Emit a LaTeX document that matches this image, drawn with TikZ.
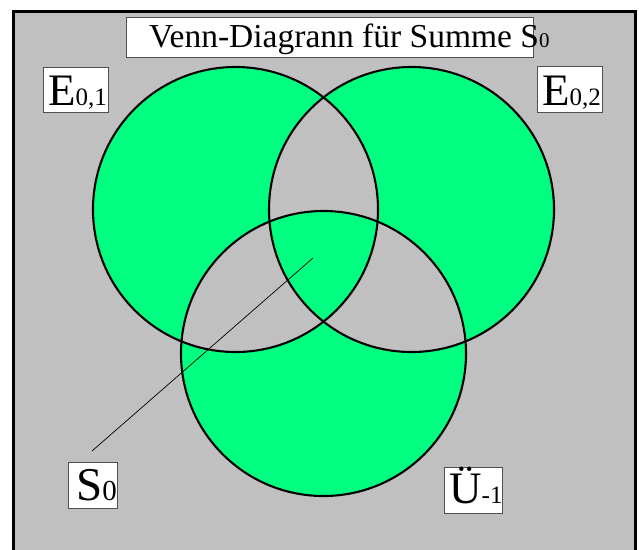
\documentclass[tikz,border=0pt]{standalone}
\usepackage{fontspec}
\setmainfont{Liberation Serif}
\definecolor{vgreen}{RGB}{0,255,128}
\definecolor{vgray}{RGB}{192,192,192}
\definecolor{boxline}{RGB}{80,80,80}
\tikzset{
  labelbox/.style={draw=boxline, line width=1pt, fill=white, inner sep=0pt},
  labeltext/.style={inner sep=0pt, anchor=base west, text=black},
  vcircle/.style={draw=black, line width=2.1pt},
}
\newcommand{\bigtxt}{\fontsize{45}{45}\selectfont}
\newcommand{\subtxt}{\fontsize{25}{25}\selectfont}
\begin{document}
\begin{tikzpicture}[x=1pt,y=-1pt]
\useasboundingbox (0,0) rectangle (639,549);
\begin{scope}
\clip (0,0) rectangle (639,549);
\draw[line width=3pt, fill=vgray] (13.5,11) rectangle (635,560);
\end{scope}
% circles
\coordinate (c1) at (235.5,209.5);
\coordinate (c2) at (411.5,209.5);
\coordinate (c3) at (323.5,353.5);
\fill[vgreen, even odd rule] (c1) circle (142.5) (c2) circle (142.5) (c3) circle (142.5);
\draw[vcircle] (c1) circle (142.5);
\draw[vcircle] (c2) circle (142.5);
\draw[vcircle] (c3) circle (142.5);
% title
\node[labelbox, minimum width=407pt, minimum height=40pt] (titlebox) at (329.5,37) {};
\node[labeltext] (title) at (149,47) {\fontsize{33.5}{33.5}\selectfont Venn-Diagrann für Summe S{\fontsize{21}{21}\selectfont 0}};
% E0,1
\node[labelbox, minimum width=65pt, minimum height=45pt] (e1box) at (75.5,89.5) {};
\node[labeltext] (e1) at (48,105) {\bigtxt E\subtxt 0,1};
% E0,2
\node[labelbox, minimum width=65pt, minimum height=46pt] (e2box) at (569.5,89) {};
\node[labeltext] (e2) at (542,105) {\bigtxt E\subtxt 0,2};
% S0
\node[labelbox, minimum width=49pt, minimum height=46pt] (s0box) at (92.5,485) {};
\node[labeltext] (s0) at (76,500) {\fontsize{47}{47}\selectfont S{\fontsize{29}{29}\selectfont 0}};
% U-1
\node[labelbox, minimum width=58pt, minimum height=46pt] (u1box) at (473,490) {};
\node[labeltext] (u1) at (449,503) {\bigtxt Ü\subtxt -1};
% pointer
\coordinate (ptr) at (313,258);
\coordinate (ptrend) at (92,451);
\draw[line width=0.7pt] (ptr) -- (ptrend);
\end{tikzpicture}
\end{document}
